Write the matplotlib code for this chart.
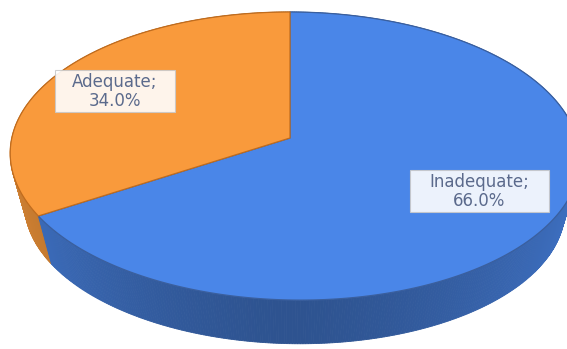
import numpy as np
import matplotlib
matplotlib.use("Agg")
import matplotlib.pyplot as plt
from matplotlib.patches import Polygon, Rectangle

# share of respondents by category
categories = ["Inadequate", "Adequate"]
values = [66.0, 34.0]
top_colors = ["#4a86e8", "#f99a3c"]
edge_colors = ["#3a5f9e", "#c06c1e"]

# label boxes: centre and size in pixels
label_pos = [(479.5, 191), (115, 91)]
label_size = [(139, 42), (120, 42)]

# projection of the unit disc onto the page (simple perspective)
cx, A = 290.0, 282.5
B, C0, K, L = 124.5, 138.0, 0.125, -0.0175
# bottom rim: shrink toward a vanishing point below the pie
VX, VY, S = 290.0, 1140.0, 0.948


def top_pt(phi):
    x, y = np.cos(phi), np.sin(phi)
    w = 1 + K * y + L * x
    return np.array([cx + A * x / w, (C0 - B * y) / w])


def bot_pt(phi):
    p = top_pt(phi)
    return np.array([VX + S * (p[0] - VX), VY + S * (p[1] - VY)])


def shade(color, phi):
    rgb = np.array(matplotlib.colors.to_rgb(color))
    f = 0.62 + 0.22 * abs(np.cos(phi)) ** 1.5
    return tuple(np.clip(rgb * f, 0, 1))


fig = plt.figure(figsize=(5.67, 3.49), dpi=100)
ax = fig.add_axes([0, 0, 1, 1])
ax.set_xlim(0, 567)
ax.set_ylim(349, 0)
ax.axis("off")

# slice angles: start at 12 o'clock, run clockwise
total = sum(values)
spans = []
start = np.pi / 2
for v in values:
    end = start - 2 * np.pi * v / total
    spans.append((start, end))
    start = end

# side wall pieces, far ones first
quads = []
for (a0, a1), col in zip(spans, top_colors):
    n = max(int(abs(a1 - a0) / np.radians(0.5)), 2)
    phis = np.linspace(a0, a1, n + 1)
    for p0, p1 in zip(phis[:-1], phis[1:]):
        pm = (p0 + p1) / 2
        pts = [top_pt(p0), top_pt(p1), bot_pt(p1), bot_pt(p0)]
        quads.append((np.sin(pm), pts, shade(col, pm)))
quads.sort(key=lambda q: -q[0])
for _, pts, c in quads:
    ax.add_patch(Polygon(pts, closed=True, facecolor=c, edgecolor=c, lw=0.6))

# top faces
for (a0, a1), col, ec in zip(spans, top_colors, edge_colors):
    phis = np.linspace(a0, a1, 300)
    pts = [np.array([cx, C0])] + [top_pt(p) for p in phis]
    ax.add_patch(Polygon(pts, closed=True, facecolor=col, edgecolor=ec,
                         lw=0.9, joinstyle="round"))

# data labels
for cat, v, (lx, ly), (bw, bh) in zip(categories, values, label_pos, label_size):
    ax.add_patch(Rectangle((lx - bw / 2, ly - bh / 2), bw, bh,
                           facecolor="white", alpha=0.9,
                           edgecolor="#c9c9c9", lw=0.8))
    ax.text(lx, ly + 0.5, f"{cat};\n{v:.1f}%", ha="center", va="center",
            fontsize=12, color="#5b6a8c", linespacing=1.02,
            family="DejaVu Sans")

fig.savefig("out.png", dpi=100, facecolor="white")
